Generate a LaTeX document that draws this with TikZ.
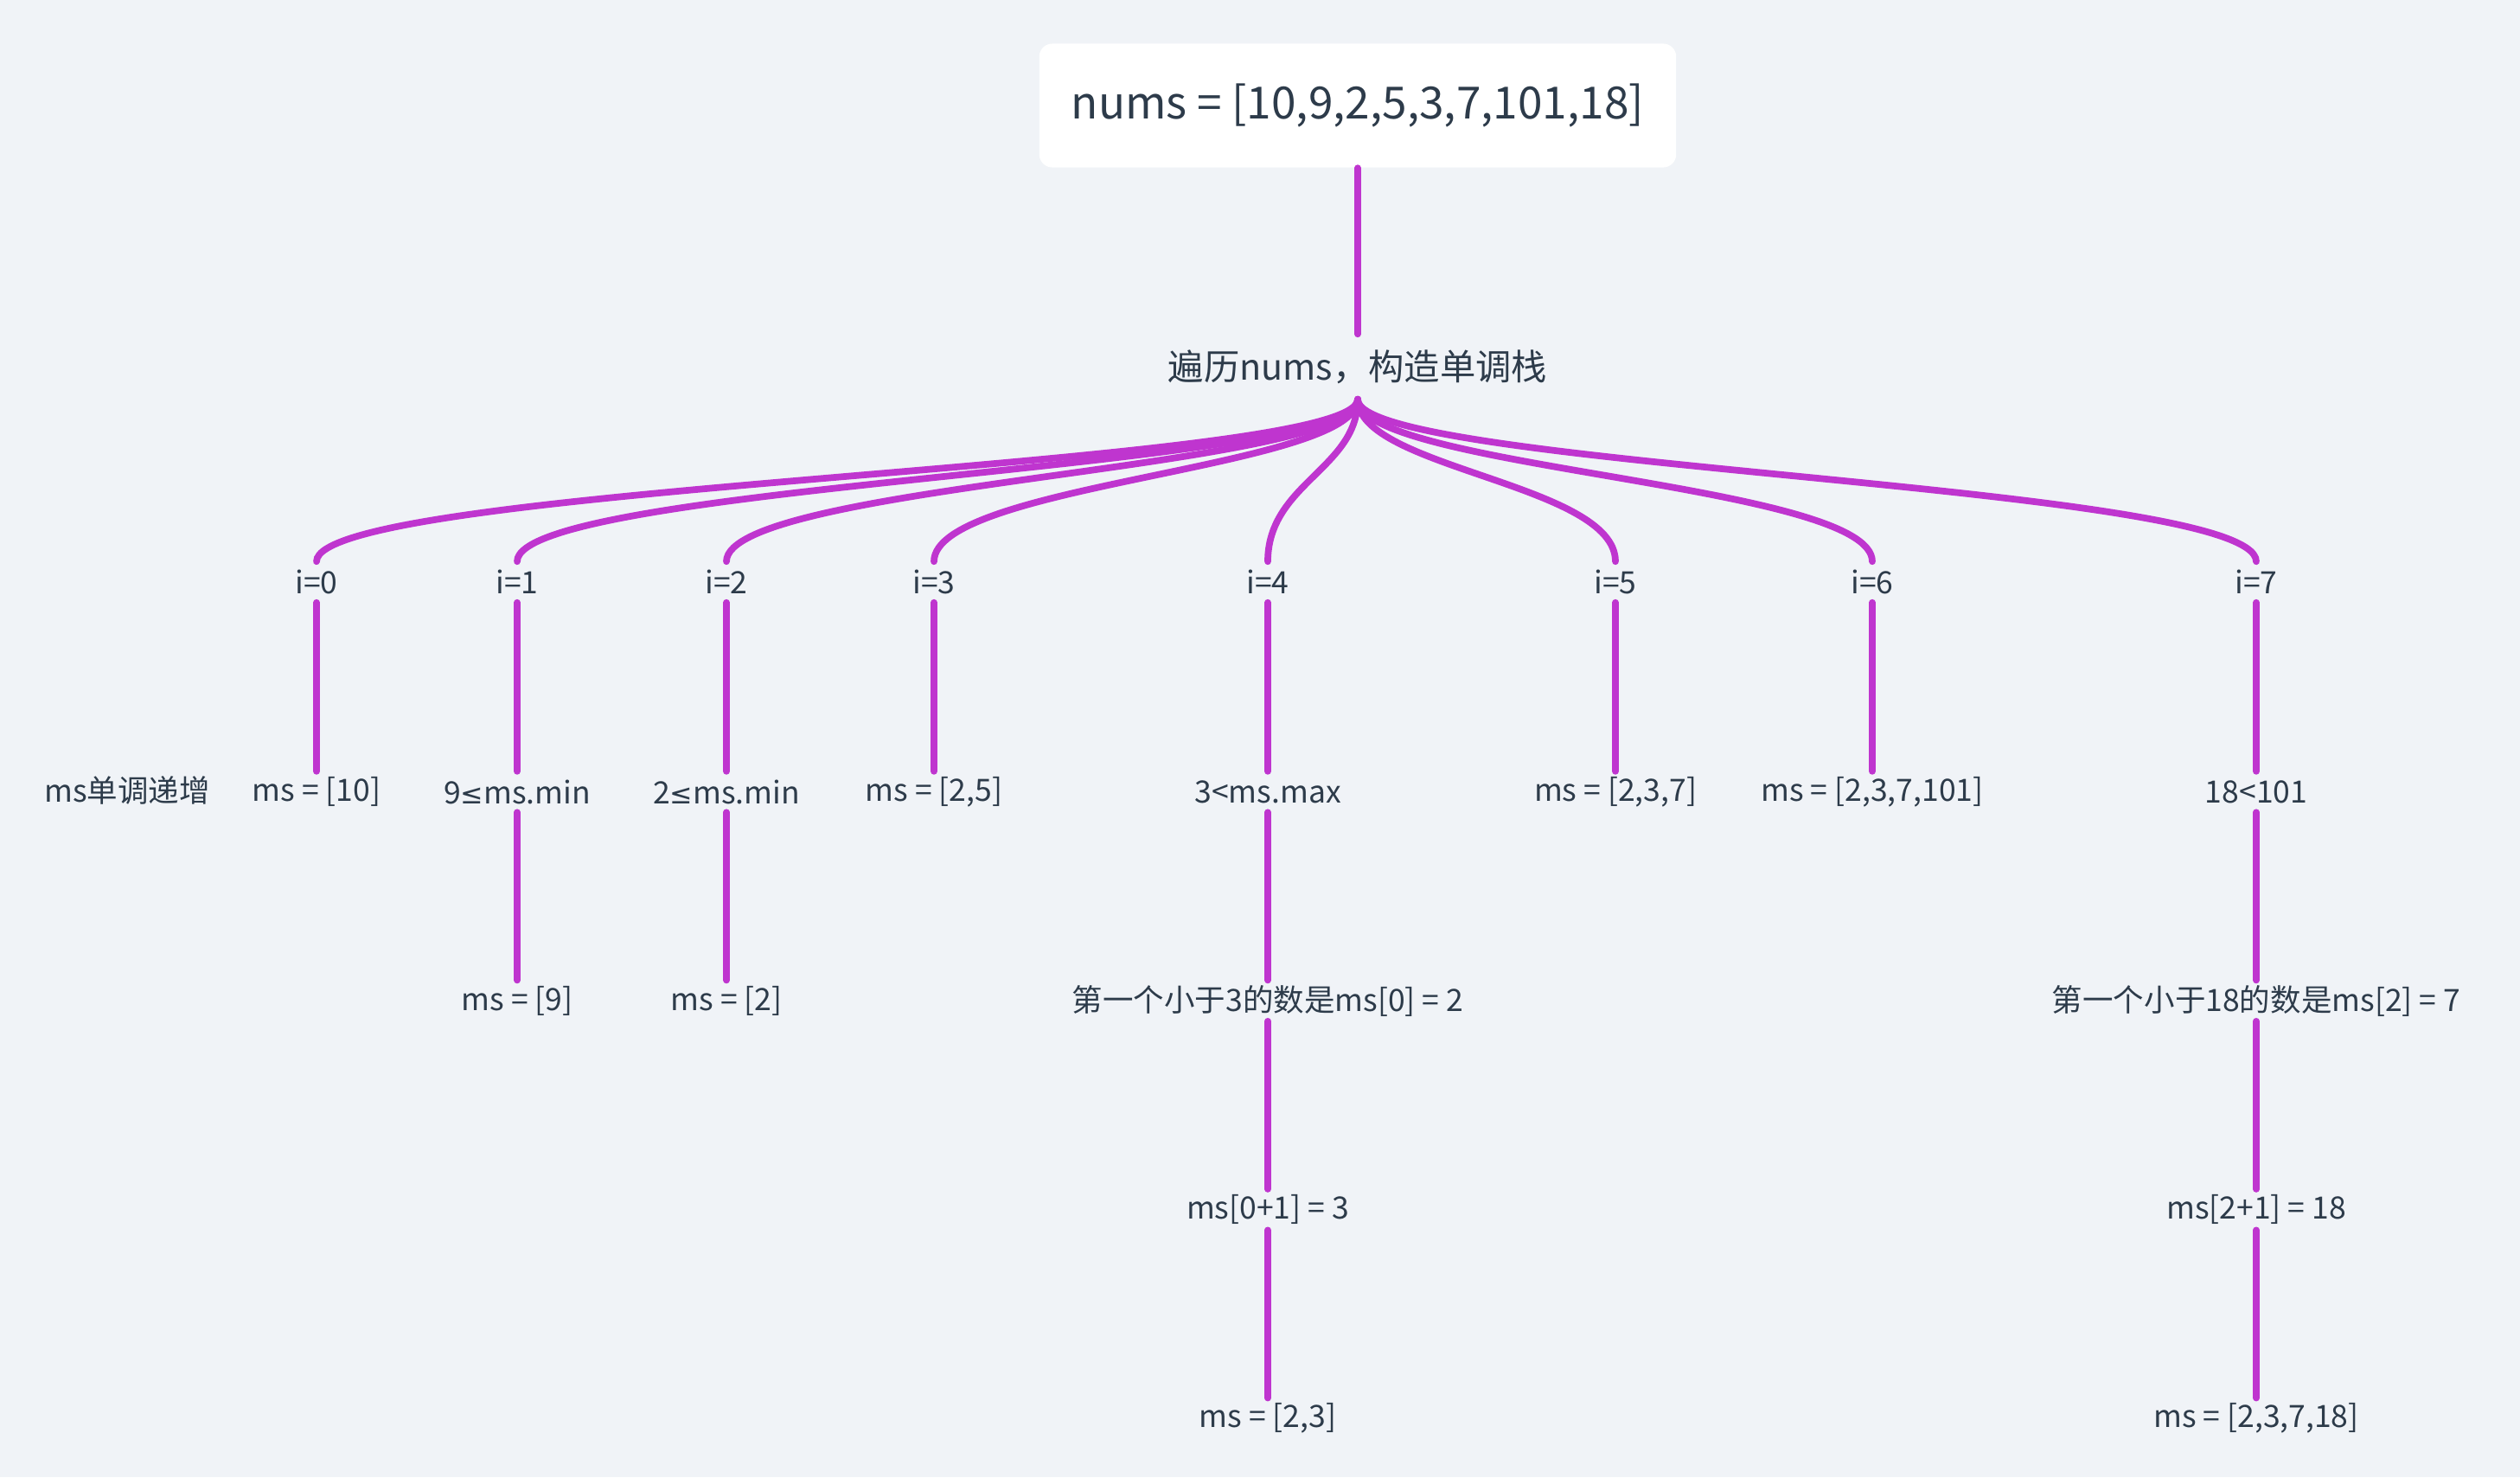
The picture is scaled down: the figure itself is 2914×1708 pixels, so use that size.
\documentclass[tikz,border=0pt]{standalone}
\usepackage{fontspec}
\setmainfont{Noto Sans CJK SC}
\newfontfamily\symb{DejaVu Sans}
\usetikzlibrary{positioning}
\definecolor{bg}{HTML}{F0F3F7}
\definecolor{branch}{HTML}{BF35CF}
\definecolor{ink}{HTML}{2D3B4A}

\begin{document}
\begin{tikzpicture}[x=0.01cm,y=-0.01cm,font=\fontsize{10.1}{12}\selectfont,text=ink,
  lbl/.style={inner sep=0pt,minimum height=0.46cm},
  br/.style={draw=branch,line width=2.2pt,line cap=round}]
\fill[bg] (0,0) rectangle (2914,1708);
% root and the scan step
\node[fill=white,rounded corners=0.15cm,minimum width=7.36cm,minimum height=1.43cm,
  font=\fontsize{14.6}{17}\selectfont] (root) at (1570,122)
  {\raisebox{-0.6pt}{nums = [10,9,2,5,3,7,101,18]}};
\node[lbl,minimum height=0.74cm,font=\fontsize{11.75}{14}\selectfont] (scan) at (1570,424)
  {遍历nums，构造单调栈};
\draw[br] (root.south) -- (scan.north);
% one branch per index
\foreach \k/\x in {0/366,1/598,2/840,3/1080,4/1466,5/1868,6/2165,7/2609}{
  \node[lbl] (i\k) at (\x,673) {i=\k};
  \draw[br] (scan.south) .. controls +(0,80) and +(0,-90) .. (i\k.north);
}
% comparison / push
\foreach \k/\t in {0/{ms = [10]},1/{9{\symb\small ≤}ms.min},2/{2{\symb\small ≤}ms.min},3/{ms = [2,5]},
    4/{3<ms.max},5/{ms = [2,3,7]},6/{ms = [2,3,7,101]},7/{18<101}}{
  \node[lbl,below=1.95cm of i\k] (c\k) {\t};
  \draw[br] (i\k.south) -- (c\k.north);
}
\node[lbl] (note) at (147,914) {ms单调递增};
% replace / binary search
\foreach \k/\t in {1/{ms = [9]},2/{ms = [2]},4/{第一个小于3的数是ms[0] = 2},
    7/{第一个小于18的数是ms[2] = 7}}{
  \node[lbl,below=1.94cm of c\k] (d\k) {\t};
  \draw[br] (c\k.south) -- (d\k.north);
}
\foreach \k/\t in {4/{ms[0+1] = 3},7/{ms[2+1] = 18}}{
  \node[lbl,below=1.94cm of d\k] (e\k) {\t};
  \draw[br] (d\k.south) -- (e\k.north);
}
\foreach \k/\t in {4/{ms = [2,3]},7/{ms = [2,3,7,18]}}{
  \node[lbl,below=1.94cm of e\k] (f\k) {\t};
  \draw[br] (e\k.south) -- (f\k.north);
}
\end{tikzpicture}
\end{document}
